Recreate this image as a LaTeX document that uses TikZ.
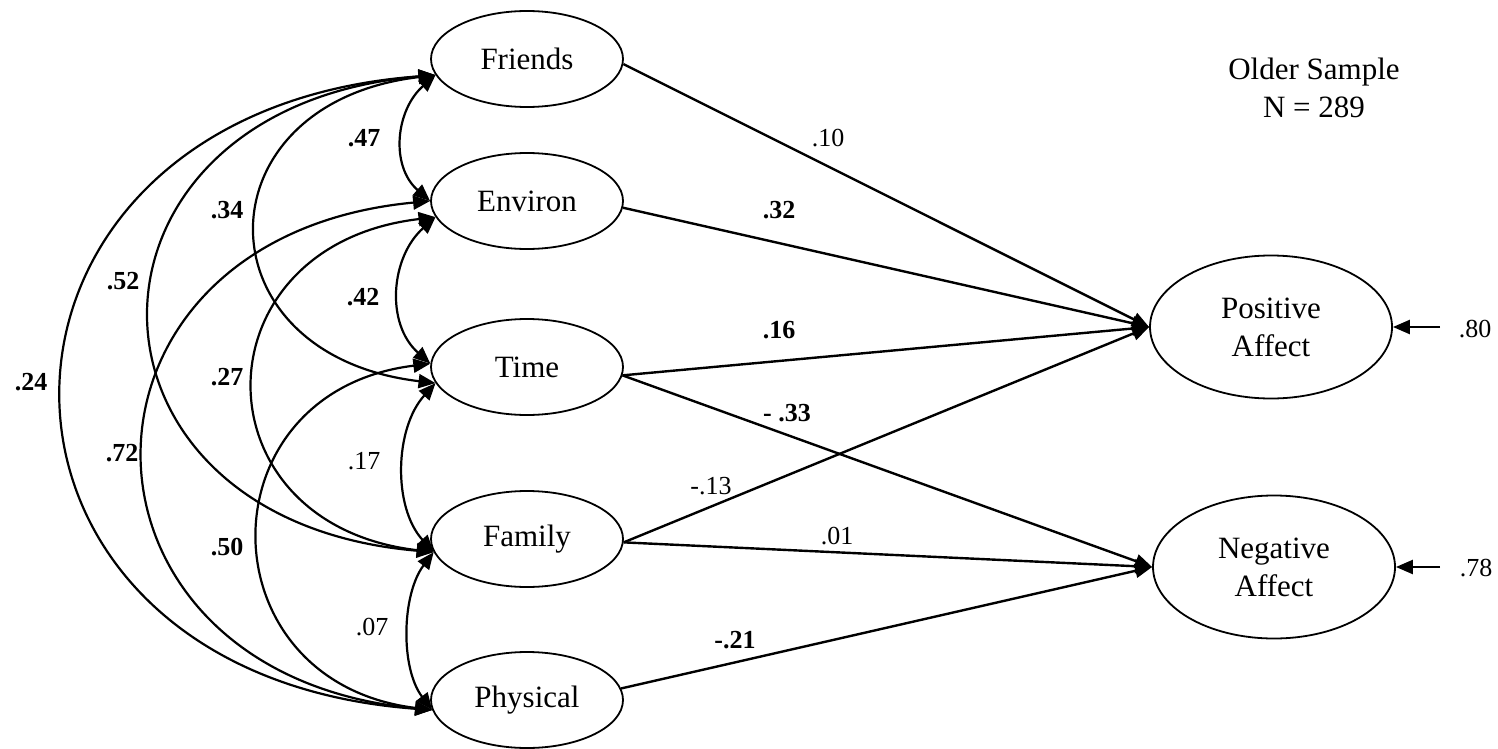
\documentclass[tikz,border=0pt]{standalone}
\usepackage{fontspec}
\setmainfont{Liberation Serif}
\usetikzlibrary{arrows.meta,shapes.geometric}
\begin{document}
\begin{tikzpicture}[x=1pt,y=-1pt,
  var/.style={ellipse, draw, line width=1.8pt, inner sep=0pt, minimum width=192pt, minimum height=96pt, font=\fontsize{31}{38}\selectfont},
  aff/.style={var, minimum width=242pt, minimum height=143pt, align=center},
  reg/.style={line width=2.4pt, -{Triangle[length=17pt,width=14pt]}},
  cov/.style={line width=2.2pt, {Triangle[length=17pt,width=14pt]}-{Triangle[length=17pt,width=14pt]}},
  lab/.style={font=\fontsize{26}{30}\selectfont, inner sep=0pt},
  blab/.style={font=\fontsize{26}{30}\selectfont\bfseries, inner sep=0pt},
]
\useasboundingbox (0,0) rectangle (1498,749);

% variables
\node[var] (fr) at (527,59) {Friends};
\node[var] (en) at (527,201) {Environ};
\node[var] (ti) at (527,367) {Time};
\node[var] (fa) at (527,539) {Family};
\node[var] (ph) at (527,700) {Physical};
\node[aff] (pa) at (1271,327) {Positive\\Affect};
\node[aff] (na) at (1274,567) {Negative\\Affect};

% title
\node[font=\fontsize{31}{38}\selectfont, align=center, inner sep=0pt] (title) at (1314,88) {Older Sample\\N = 289};

% regression paths
\draw[reg] (fr.-3) -- (pa.west);
\draw[reg] (en.-4) -- (pa.west);
\draw[reg] (ti.-5) -- (pa.west);
\draw[reg] (fa.-2) -- (pa.west);
\draw[reg] (ti.-5) -- (na.west);
\draw[reg] (fa.-2) -- (na.west);
\draw[reg] (ph.7) -- (na.west);

% residuals
\coordinate (s80) at (1440,327);
\coordinate (s78) at (1440,567);
\draw[reg] (s80) -- (pa.east);
\draw[reg] (s78) -- (na.east);
\node[lab] (l80) at (1475,329) {.80};
\node[lab] (l78) at (1476,568) {.78};

% path labels
\node[lab]  (l10) at (828,138) {.10};
\node[blab] (l32) at (779,210) {.32};
\node[blab] (l16) at (779,330) {.16};
\node[blab] (l33) at (787,413) {- .33};
\node[lab]  (l13) at (711,486) {-.13};
\node[lab]  (l01) at (837,536) {.01};
\node[blab] (l21) at (735,640) {-.21};

% covariances (adjacent)
\draw[cov] (fr.190) .. controls +(-40,35) and +(-40,-35) .. (en.180);
\draw[cov] (en.190) .. controls +(-45,40) and +(-45,-40) .. (ti.178);
\draw[cov] (ti.190) .. controls +(-41,45) and +(-41,-45) .. (fa.188);
\draw[cov] (fa.188) .. controls +(-32,42) and +(-32,-42) .. (ph.186);
% covariances (long)
\draw[cov] (fr.190) .. controls +(-238,28) and +(-238,-28) .. (ti.190);
\draw[cov] (en.190) .. controls +(-240,28) and +(-240,-28) .. (fa.188);
\draw[cov] (ti.178) .. controls +(-229,28) and +(-229,-28) .. (ph.186);
\draw[cov] (fr.190) .. controls +(-378,32) and +(-378,-32) .. (fa.188);
\draw[cov] (en.180) .. controls +(-382,36) and +(-382,-36) .. (ph.186);
\draw[cov] (fr.190) .. controls +(-494,36) and +(-494,-36) .. (ph.186);

% covariance labels
\node[blab] (c47) at (364,138) {.47};
\node[blab] (c42) at (363,297) {.42};
\node[lab]  (c17) at (364,461) {.17};
\node[lab]  (c07) at (372,627) {.07};
\node[blab] (c34) at (227,210) {.34};
\node[blab] (c27) at (227,377) {.27};
\node[blab] (c50) at (227,547) {.50};
\node[blab] (c52) at (123,281) {.52};
\node[blab] (c72) at (122,453) {.72};
\node[blab] (c24) at (31,382) {.24};
\end{tikzpicture}
\end{document}
